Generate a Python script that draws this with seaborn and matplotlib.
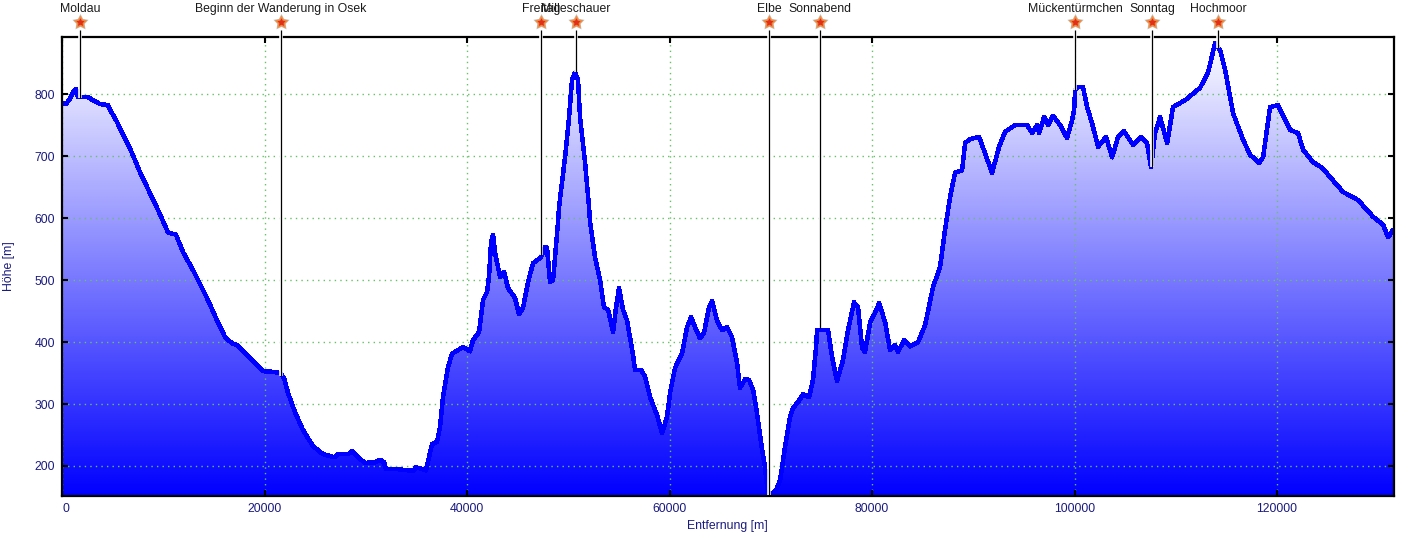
#!/usr/bin/env python3

import numpy as np
import seaborn as sns
import matplotlib.pyplot as plt
from matplotlib.path import Path

distance = [
    100, 395, 690, 1085, 1385, 1580, 2075, 2570, 3060, 3750, 4545, 4940, 5430, 6125, 6915, 7700,
    8690, 9480, 10470, 11260, 11950, 12940, 14320, 15310, 16100, 16790, 17285, 18570, 19850,
    20740, 21530, 21930, 22320, 23010, 23800, 24790, 25780, 26960, 27260, 28250, 28640, 29240,
    29930, 30910, 31410, 31800, 32000, 33090, 34670, 34960, 35950, 36250, 36540, 37040, 37330,
    37630, 38130, 38520, 39610, 40300, 40590, 41190, 41580, 41980, 42170, 42370, 42570, 42770,
    43260, 43660, 44050, 44740, 45140, 45530, 46030, 46520, 47310, 47700, 47900, 48200, 48500,
    48990, 49090, 49680, 50080, 50370, 50670, 50960, 51160, 51660, 52050, 52150, 52640, 53140,
    53530, 53930, 54420, 54720, 55010, 55410, 55800, 56400, 56590, 57190, 57580, 58080, 58770,
    59260, 59750, 60050, 60540, 61240, 61730, 62120, 62520, 63010, 63410, 63900, 64200, 64690,
    65190, 65680, 66170, 66670, 66960, 67460, 67850, 68250, 68640, 69140, 69430, 69730, 70130,
    70520, 70920, 71410, 71900, 72200, 72690, 73190, 73780, 74170, 74470, 74570, 75660, 76050,
    76540, 77140, 77630, 78220, 78620, 79020, 79310, 79810, 80300, 80700, 81290, 81780, 82270,
    82570, 83160, 83760, 84550, 85240, 86030, 86720, 87210, 87710, 88200, 88890, 89190, 89680,
    90570, 90970, 91860, 92550, 93140, 94130, 95310, 95810, 96300, 96500, 96990, 97390, 97880,
    98570, 99260, 99760, 99960, 100050, 100350, 100840, 101240, 101730, 102320, 103110, 103710,
    104300, 104890, 105780, 106570, 107160, 107560, 107950, 108450, 109140, 109730, 110920,
    112400, 113190, 113880, 114370, 114870, 115660, 116650, 117340, 118230, 118620, 119310,
    120100, 121290, 122080, 122570, 123560, 124450, 125240, 126520, 128000, 129490, 130470,
    130970, 131460,
]
elevation = [
    785, 784, 790, 803, 808, 795, 795, 795, 790, 784, 782, 769, 755, 731, 705, 674,
    640, 613, 577, 573, 545, 516, 471, 435, 408, 398, 395, 374, 353,
    352, 350, 342, 318, 287, 258, 232, 219, 214, 219, 219, 224, 214,
    205, 206, 210, 206, 195, 195, 192, 198, 193, 214, 235, 239, 263,
    311, 360, 381, 392, 385, 403, 416, 468, 481, 505, 560, 573, 544,
    505, 513, 487, 471, 445, 455, 497, 527, 537, 553, 552, 497, 500,
    594, 618, 698, 763, 823, 835, 823, 763, 689, 618, 594, 537, 500,
    456, 452, 416, 456, 487, 452, 435, 379, 355, 355, 344, 311, 282,
    253, 279, 318, 358, 382, 424, 440, 424, 406, 415, 456, 466, 435,
    419, 424, 408, 366, 326, 340, 339, 323, 285, 226, 198, 153, 156,
    161, 177, 231, 279, 294, 303, 316, 311, 339, 392, 419, 419, 376,
    337, 371, 419, 464, 456, 390, 384, 432, 447, 463, 432, 387, 395,
    384, 403, 393, 400, 427, 489, 521, 581, 634, 673, 677, 721, 727,
    731, 713, 673, 715, 739, 750, 750, 737, 750, 737, 763, 750, 765,
    750, 729, 758, 774, 806, 811, 811, 779, 753, 715, 731, 698,
    731, 740, 718, 731, 721, 682, 737, 763, 721, 779, 790,
    810, 835, 882, 871, 839, 769, 726, 702, 689, 698, 779,
    782, 742, 737, 710, 690, 681, 666, 642, 629, 602, 589,
    569, 581,
]

waypoint_names = [
    "Moldau", "Beginn der Wanderung in Osek", "Freitag", "Milleschauer", "Elbe",
    "Sonnabend", "Mückentürmchen", "Sonntag", "Hochmoor",
]
waypoint_x = [1780, 21630, 47310, 50770, 69830, 74870, 100050, 107660, 114180]
waypoint_y = [794, 345, 541, 835, 153, 423, 806, 682, 874]

x_ticks = [0, 20000, 40000, 60000, 80000, 100000, 120000]
y_ticks = [200, 300, 400, 500, 600, 700, 800]

NAVY = "#1a1a80"
FONT_SIZE = 8.8

sns.set_theme(style="white")
plt.rcParams["font.family"] = ["Liberation Sans", "DejaVu Sans"]
plt.rcParams["font.size"] = FONT_SIZE

fig = plt.figure(figsize=(14.21, 5.38), dpi=100)
ax = fig.add_axes([62 / 1421, 42 / 538, 1332 / 1421, 459 / 538])

xlim = (0, 131550)
ylim = (151.6, 892)

# blue to white fill under the profile
cmap = sns.blend_palette(["#0000ff", "#ffffff"], as_cmap=True)
gradient = np.linspace(0, 1, 256).reshape(-1, 1)
img = ax.imshow(gradient, extent=(*xlim, *ylim), origin="lower", aspect="auto", cmap=cmap, zorder=1)
poly = ax.fill_between(distance, elevation, ylim[0], facecolor="none", edgecolor="none")
img.set_clip_path(poly.get_paths()[0], transform=ax.transData)

sns.lineplot(x=distance, y=elevation, ax=ax, color="#0000ff", linewidth=2.5, estimator=None,
             sort=False, antialiased=False, zorder=3)

ax.set_xlim(*xlim)
ax.set_ylim(*ylim)
ax.set_xticks(x_ticks)
ax.set_yticks(y_ticks)
ax.set_axisbelow(False)
ax.grid(True, color="#66c266", linestyle=(0, (1, 3)), linewidth=1.0)
ax.tick_params(direction="in", length=4, width=1.5, color="black", labelcolor=NAVY,
               labelsize=FONT_SIZE, top=True, right=True, pad=5, bottom=True, left=True)
for spine in ax.spines.values():
    spine.set_linewidth(1.6)
    spine.set_color("black")
    spine.set_zorder(4)
ax.get_xticklabels()[0].set_ha("left")

ax.set_xlabel("Entfernung [m]", color=NAVY, fontsize=FONT_SIZE, labelpad=0)
ax.set_ylabel("Höhe [m]", color=NAVY, fontsize=FONT_SIZE, va="center")
ax.yaxis.set_label_coords(-0.0398, 0.5)
ax.xaxis.set_label_coords(0.4995, -0.053)

# fatter star than the stock "*" marker
star = Path.unit_regular_star(5, innerCircle=0.52)

# waypoint markers sit above the frame, x in data and y in axes fraction
trans = ax.get_xaxis_transform()
for name, wx, wy in zip(waypoint_names, waypoint_x, waypoint_y):
    wy_frac = (wy - ylim[0]) / (ylim[1] - ylim[0])
    ax.plot([wx, wx], [1.015, wy_frac], transform=trans, color="white", linewidth=2.6,
            clip_on=False, zorder=5, solid_capstyle="butt")
    ax.plot([wx, wx], [1.015, wy_frac], transform=trans, color="black", linewidth=0.9,
            clip_on=False, zorder=6, solid_capstyle="butt")
    ax.scatter([wx], [1.0327], transform=trans, marker=star, s=150, color="#c4c0b8",
               linewidths=0, clip_on=False, zorder=7)
    ax.scatter([wx], [1.0327], transform=trans, marker=star, s=105, color="#f58a3c",
               linewidths=0, clip_on=False, zorder=8)
    ax.scatter([wx], [1.0318], transform=trans, marker=star, s=38, color="#e0301a",
               linewidths=0, clip_on=False, zorder=9)
    ax.text(wx, 1.0612, name, transform=trans, ha="center", va="center", color="#1a1a1a",
            fontsize=FONT_SIZE, clip_on=False, zorder=10)

plt.savefig("out.png", dpi=100)
